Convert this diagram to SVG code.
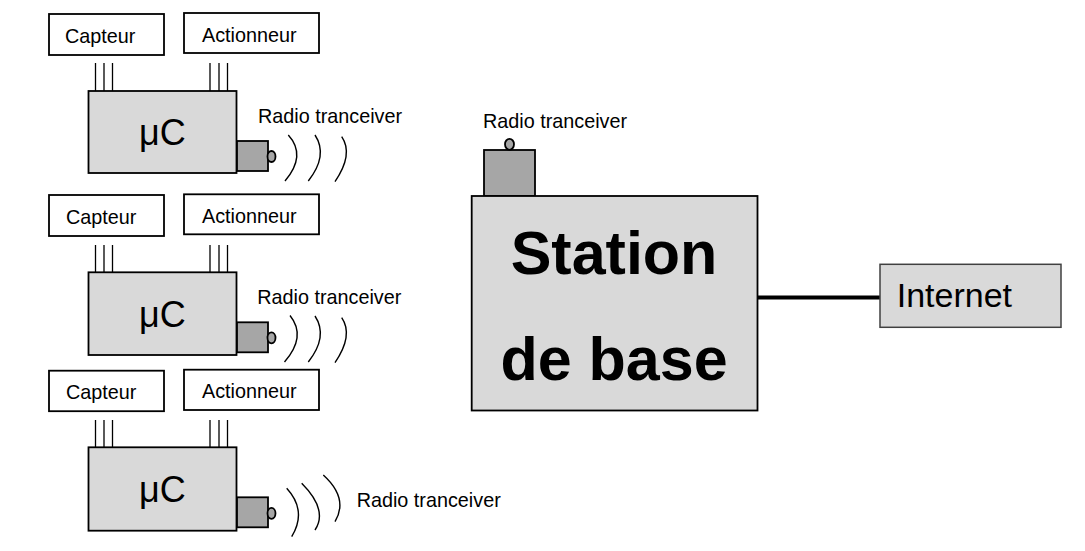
<svg xmlns="http://www.w3.org/2000/svg" width="1085" height="551" viewBox="0 0 1085 551">
<style>
.box{fill:#fff;stroke:#000;stroke-width:1.8}
.mc{fill:#d9d9d9;stroke:#000;stroke-width:1.8}
.tr{fill:#a6a6a6;stroke:#000;stroke-width:1.8}
.wire{stroke:#000;stroke-width:1.3;fill:none}
.wave{stroke:#000;stroke-width:1.4;fill:none}
.lbl{font-family:"Liberation Sans",Arial,sans-serif;font-size:19.8px;fill:#000}
.mu{font-family:"Liberation Sans",Arial,sans-serif;font-size:36px;fill:#000}
.big{font-family:"Liberation Sans",Arial,sans-serif;font-size:61px;font-weight:bold;fill:#000;text-anchor:middle}
.inet{font-family:"Liberation Sans",Arial,sans-serif;font-size:34px;fill:#000}
</style>
<rect width="1085" height="551" fill="#fff"/>
<g id="connectors">
  <g id="wires1">
    <line class="wire" x1="95.5" y1="63" x2="95.5" y2="91"/><line class="wire" x1="104" y1="63" x2="104" y2="91"/><line class="wire" x1="112.5" y1="63" x2="112.5" y2="91"/>
    <line class="wire" x1="210" y1="63" x2="210" y2="91"/><line class="wire" x1="219" y1="63" x2="219" y2="91"/><line class="wire" x1="227.5" y1="63" x2="227.5" y2="91"/>
  </g>
  <g id="wires2">
    <line class="wire" x1="95.5" y1="245" x2="95.5" y2="272"/><line class="wire" x1="104" y1="245" x2="104" y2="272"/><line class="wire" x1="112.5" y1="245" x2="112.5" y2="272"/>
    <line class="wire" x1="210" y1="245" x2="210" y2="272"/><line class="wire" x1="219" y1="245" x2="219" y2="272"/><line class="wire" x1="227.5" y1="245" x2="227.5" y2="272"/>
  </g>
  <g id="wires3">
    <line class="wire" x1="95.5" y1="420" x2="95.5" y2="447"/><line class="wire" x1="104" y1="420" x2="104" y2="447"/><line class="wire" x1="112.5" y1="420" x2="112.5" y2="447"/>
    <line class="wire" x1="210" y1="420" x2="210" y2="447"/><line class="wire" x1="219" y1="420" x2="219" y2="447"/><line class="wire" x1="227.5" y1="420" x2="227.5" y2="447"/>
  </g>
  <line id="station-internet" x1="757" y1="297.5" x2="880" y2="297.5" stroke="#000" stroke-width="4"/>
</g>

<g id="node1">
  <rect class="box" x="49" y="14" width="115" height="41"/>
  <text class="lbl" x="65" y="43.3">Capteur</text>
  <rect class="box" x="184" y="13" width="135" height="40"/>
  <text class="lbl" x="202" y="41.7">Actionneur</text>
  <rect class="mc" x="88.5" y="91" width="148" height="82"/>
  <text class="mu" x="139" y="145">μC</text>
  <rect class="tr" x="237" y="141" width="31" height="30"/>
  <ellipse class="tr" cx="271.5" cy="156.5" rx="4" ry="5.5" stroke-width="1.5"/>
  <path class="wave" d="M288.3 135 Q306.8 155.4 285 181"/>
  <path class="wave" d="M315 135 Q328.4 155.4 308.3 181"/>
  <path class="wave" d="M341.7 136.7 Q353.7 154.2 335 181.7"/>
  <text class="lbl" x="258" y="123">Radio tranceiver</text>
</g>

<g id="node2">
  <rect class="box" x="49" y="195" width="115" height="41"/>
  <text class="lbl" x="66" y="224.3">Capteur</text>
  <rect class="box" x="184" y="194.3" width="135" height="40"/>
  <text class="lbl" x="202" y="223.3">Actionneur</text>
  <rect class="mc" x="88.5" y="272.3" width="148" height="82.7"/>
  <text class="mu" x="139" y="326.7">μC</text>
  <rect class="tr" x="237" y="322.3" width="31" height="30"/>
  <ellipse class="tr" cx="271.5" cy="337.8" rx="4" ry="5.5" stroke-width="1.5"/>
  <path class="wave" d="M290 315.5 Q306.8 336.4 284.5 362"/>
  <path class="wave" d="M315 316 Q328.4 336.4 308.3 362"/>
  <path class="wave" d="M341.7 317.7 Q353.7 335.2 335 362.7"/>
  <text class="lbl" x="257.3" y="304">Radio tranceiver</text>
</g>

<g id="node3">
  <rect class="box" x="49" y="370.7" width="115" height="40.5"/>
  <text class="lbl" x="66" y="399.3">Capteur</text>
  <rect class="box" x="184" y="369.7" width="135" height="40.3"/>
  <text class="lbl" x="202" y="398.3">Actionneur</text>
  <rect class="mc" x="88.5" y="447.3" width="148" height="83.4"/>
  <text class="mu" x="139" y="501.7">μC</text>
  <rect class="tr" x="237" y="497.3" width="31" height="30"/>
  <ellipse class="tr" cx="271.5" cy="513.3" rx="4" ry="5.5" stroke-width="1.5"/>
  <path class="wave" d="M286.7 488.3 Q307.4 510.9 291.7 536.7"/>
  <path class="wave" d="M301.7 483.3 Q328.3 510 315 530"/>
  <path class="wave" d="M323.3 475 Q348.9 498.3 335 521.7"/>
  <text class="lbl" x="356.7" y="506.7">Radio tranceiver</text>
</g>

<g id="station">
  <rect class="tr" x="484" y="150" width="51" height="46"/>
  <ellipse class="tr" cx="509.5" cy="144.3" rx="4.5" ry="5.5" stroke-width="1.5"/>
  <text class="lbl" x="483" y="128.3">Radio tranceiver</text>
  <rect class="mc" x="471.7" y="196" width="285.8" height="214.5"/>
  <text class="big" x="614" y="274">Station</text>
  <text class="big" x="614" y="380">de base</text>
</g>

<g id="internet">
  <rect x="880" y="264.3" width="181" height="63" fill="#d9d9d9" stroke="#404040" stroke-width="1.5"/>
  <text class="inet" x="896.7" y="306.7">Internet</text>
</g>
</svg>
